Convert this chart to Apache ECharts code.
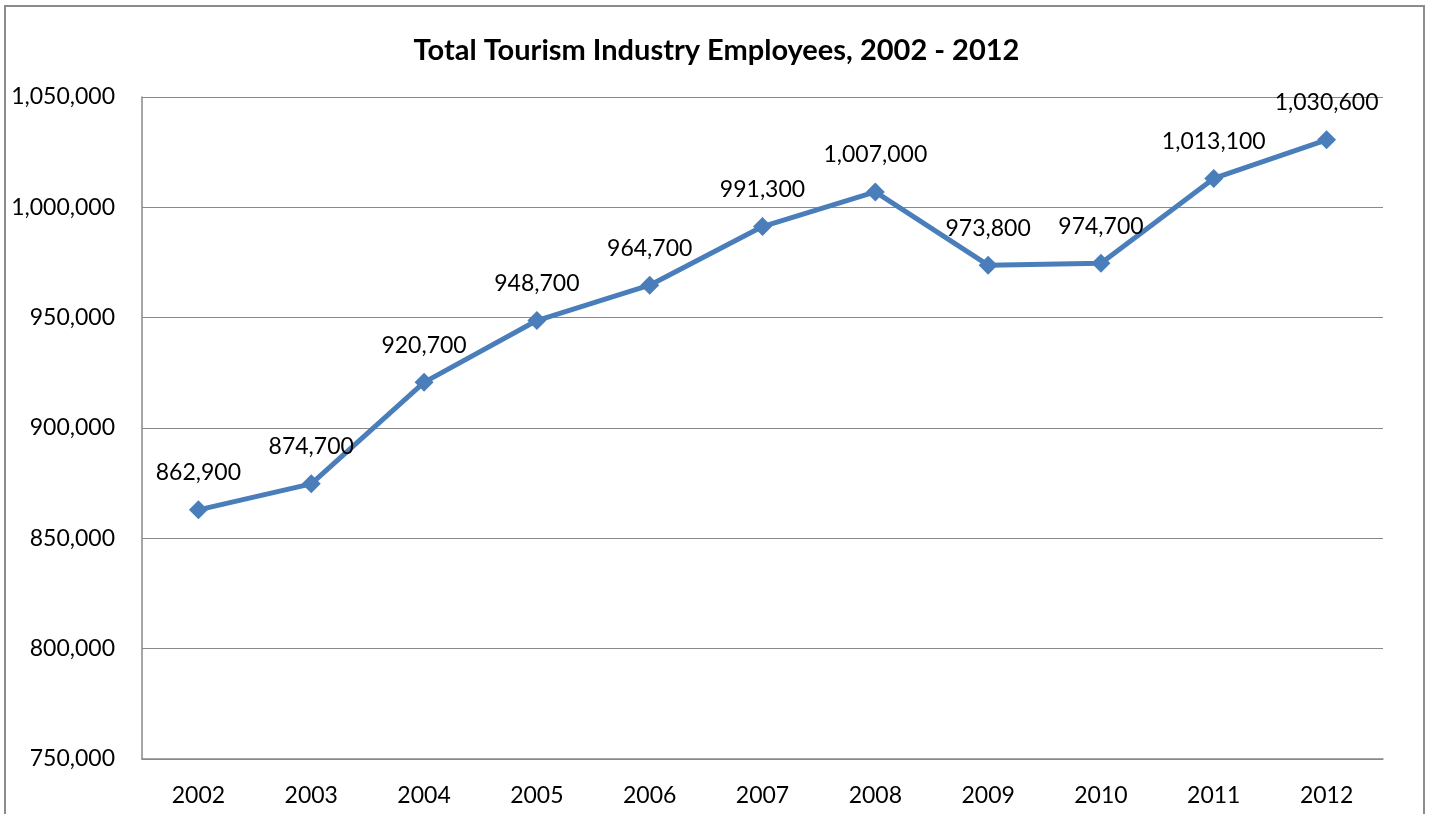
<!DOCTYPE html>
<html>
<head>
<meta charset="utf-8">
<style>
  html, body { margin: 0; padding: 0; background: #fff; }
  #chart { width: 1433px; height: 814px; }
</style>
<script src="https://cdn.jsdelivr.net/npm/echarts@6/dist/echarts.min.js"></script>
</head>
<body>
<div id="chart"></div>
<script>
// Total tourism industry employees by year
const years = ['2002', '2003', '2004', '2005', '2006', '2007', '2008', '2009', '2010', '2011', '2012'];
const employees = [862900, 874700, 920700, 948700, 964700, 991300, 1007000, 973800, 974700, 1013100, 1030600];
const chartTitle = 'Total Tourism Industry Employees, 2002 - 2012';

const fmt = v => v.toLocaleString('en-US');
const FONT = 'Lato, "Open Sans", sans-serif';

const chart = echarts.init(document.getElementById('chart'), null, { renderer: 'canvas' });
chart.setOption({
  backgroundColor: '#fff',
  animation: false,
  graphic: [{
    type: 'rect',
    shape: { x: 5, y: 6, width: 1419, height: 830 },
    style: { fill: 'none', stroke: '#8c8c8c', lineWidth: 2 },
    silent: true
  }],
  title: {
    text: chartTitle,
    left: 'center',
    top: 31,
    textStyle: { fontFamily: FONT, fontSize: 29, fontWeight: 'bold', color: '#000' }
  },
  grid: { left: 142, right: 50, top: 97, bottom: 55, containLabel: false },
  xAxis: {
    type: 'category',
    data: years,
    boundaryGap: true,
    axisLine: { show: true, lineStyle: { color: '#898989', width: 1.5 } },
    axisTick: { show: false },
    axisLabel: { margin: 25, fontFamily: FONT, fontSize: 23, color: '#000' },
    splitLine: { show: false }
  },
  yAxis: {
    type: 'value',
    min: 750000,
    max: 1050000,
    interval: 50000,
    axisLine: { show: true, lineStyle: { color: '#898989', width: 1.5 } },
    axisTick: { show: false },
    axisLabel: { margin: 27, fontFamily: FONT, fontSize: 23, color: '#000', formatter: fmt },
    splitLine: { show: true, lineStyle: { color: '#898989', width: 1.2 } }
  },
  series: [{
    type: 'line',
    data: employees,
    symbol: 'diamond',
    symbolSize: 19,
    lineStyle: { color: '#4a7ebb', width: 5 },
    itemStyle: { color: '#4a7ebb' },
    label: {
      show: true,
      position: 'top',
      distance: 16,
      fontFamily: FONT,
      fontSize: 23,
      color: '#000',
      formatter: p => fmt(p.value)
    }
  }]
});
</script>
</body>
</html>
